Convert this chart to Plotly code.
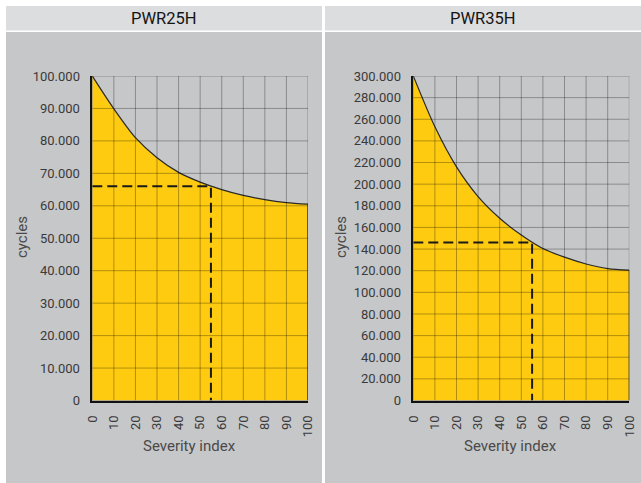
import plotly.graph_objects as go

# ---- data ----
severity = [0, 10, 20, 30, 40, 50, 60, 70, 80, 90, 100]
cycles_25 = [100000, 89900, 81000, 74800, 70300, 67300, 65000, 63200, 61900, 61000, 60500]
cycles_35 = [300000, 253000, 216000, 188500, 168500, 153000, 140500, 132500, 126200, 122000, 120600]
marker_x = 55
marker_25 = 66000
marker_35 = 146000
titles = ["PWR25H", "PWR35H"]
x_ticks = list(range(0, 101, 10))
y_ticks_25 = list(range(0, 100001, 10000))
y_ticks_35 = list(range(0, 300001, 20000))

W, H = 641, 483
FONT = "Roboto"
YELLOW = "#fecb10"
BODY = "#c6c7c9"
HEAD = "#dcdddf"

fig = go.Figure()

panels = [
    dict(title=titles[0], y=cycles_25, m=marker_25, yt=y_ticks_25, xa="x", ya="y",
         px0=6, px1=322, dom_x=(92.3, 308.0)),
    dict(title=titles[1], y=cycles_35, m=marker_35, yt=y_ticks_35, xa="x2", ya="y2",
         px0=325, px1=641, dom_x=(413.3, 629.3)),
]

shapes = []
annotations = []
plot_top, plot_bot = 76.0, 400.5

for i, p in enumerate(panels):
    shapes.append(dict(type="rect", xref="paper", yref="paper", layer="below",
                       x0=p["px0"] / W, x1=p["px1"] / W, y0=1 - 6 / H, y1=1 - 30.5 / H,
                       fillcolor=HEAD, line_width=0))
    shapes.append(dict(type="rect", xref="paper", yref="paper", layer="below",
                       x0=p["px0"] / W, x1=p["px1"] / W, y0=0, y1=1 - 32 / H,
                       fillcolor=BODY, line_width=0))
    annotations.append(dict(text=p["title"], xref="paper", yref="paper",
                            x=(p["px0"] + p["px1"]) / 2 / W, y=1 - 18.5 / H,
                            xanchor="center", yanchor="middle", showarrow=False,
                            font=dict(family=FONT, size=16.5, color="#141414")))
    annotations.append(dict(text="cycles", xref="paper", yref="paper",
                            x=(p["px0"] + 16) / W, y=1 - 237 / H, textangle=-90,
                            xanchor="center", yanchor="middle", showarrow=False,
                            font=dict(family=FONT, size=15, color="#4a4a4a")))
    annotations.append(dict(text="Severity index", xref="paper", yref="paper",
                            x=(p["dom_x"][0] + p["dom_x"][1]) / 2 / W - 11 / W, y=1 - 446 / H,
                            xanchor="center", yanchor="middle", showarrow=False,
                            font=dict(family=FONT, size=15, color="#4a4a4a")))

    fig.add_trace(go.Scatter(
        x=severity, y=p["y"], xaxis=p["xa"], yaxis=p["ya"],
        mode="lines", line=dict(color="#2a2a2a", width=1.2, shape="spline", smoothing=0.8),
        fill="tozeroy", fillcolor=YELLOW, hoverinfo="skip", showlegend=False))
    fig.add_trace(go.Scatter(
        x=[severity[-1], severity[-1]], y=[0, p["y"][-1]], xaxis=p["xa"], yaxis=p["ya"],
        mode="lines", line=dict(color="#2a2a2a", width=1.2),
        hoverinfo="skip", showlegend=False))

    for xv in x_ticks:
        shapes.append(dict(type="line", xref=p["xa"], yref=p["ya"], layer="above",
                           x0=xv, x1=xv, y0=p["yt"][0], y1=p["yt"][-1],
                           line=dict(color="rgba(0,0,0,0.3)", width=1)))
    for yv in p["yt"]:
        shapes.append(dict(type="line", xref=p["xa"], yref=p["ya"], layer="above",
                           x0=x_ticks[0], x1=x_ticks[-1], y0=yv, y1=yv,
                           line=dict(color="rgba(0,0,0,0.3)", width=1)))

    fig.add_trace(go.Scatter(
        x=[0, marker_x, marker_x], y=[p["m"], p["m"], 0], xaxis=p["xa"], yaxis=p["ya"],
        mode="lines", line=dict(color="#1a1a1a", width=2, dash="10px,5px"),
        hoverinfo="skip", showlegend=False))

    axis_common = dict(showgrid=False, zeroline=False, showline=True,
                       linecolor="#111111", linewidth=1.5, ticks="",
                       tickfont=dict(family=FONT, size=13, color="#3a3a3a"),
                       ticklabelstandoff=8, automargin=False)
    xk = "xaxis" if i == 0 else "xaxis2"
    yk = "yaxis" if i == 0 else "yaxis2"
    fig.update_layout(**{
        xk: dict(domain=[p["dom_x"][0] / W, p["dom_x"][1] / W], range=[0, 100],
                 tickvals=x_ticks, tickangle=-90, anchor=p["ya"], **axis_common),
        yk: dict(domain=[1 - plot_bot / H, 1 - plot_top / H],
                 range=[p["yt"][0], p["yt"][-1]], tickvals=p["yt"],
                 tickformat=",d", anchor=p["xa"], **axis_common),
    })

fig.update_layout(
    width=W, height=H, margin=dict(l=0, r=0, t=0, b=0, pad=0, autoexpand=False),
    paper_bgcolor="white", plot_bgcolor=BODY,
    separators=",.", showlegend=False,
    shapes=shapes, annotations=annotations,
)

fig.write_html("out.html", config={"displayModeBar": False},
               post_script="document.body.style.margin='0';document.body.style.overflow='hidden';")
